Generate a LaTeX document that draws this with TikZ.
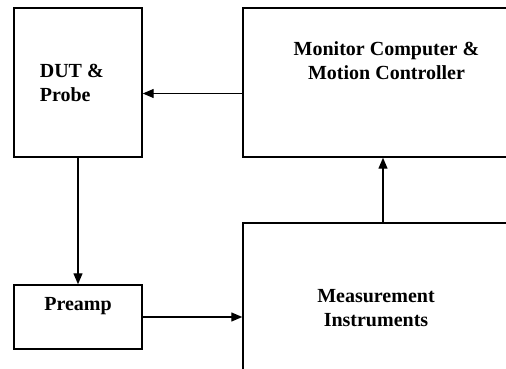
\documentclass[tikz,border=0pt]{standalone}
\usepackage{fontspec}
\setmainfont{Liberation Serif}
\usetikzlibrary{positioning,arrows.meta,calc}

\begin{document}
\begin{tikzpicture}[x=1pt,y=-1pt,>={Triangle[length=11pt,width=9pt]},
  font=\bfseries\fontsize{20}{24}\selectfont,
  block/.style={rectangle,draw=black,line width=1.4pt},
  link/.style={->,line width=1.3pt}]

\clip (0,0) rectangle (506,369);

% draw blocks
\node[block,minimum width=128,minimum height=149,
  label={[anchor=west,align=left,xshift=23pt]west:DUT \&\\Probe}] (dut) at (78,82.5) {};
\node[block,minimum width=287,minimum height=149,
  label={[anchor=north,align=center,yshift=-31pt]north:Monitor Computer \&\\Motion Controller}] (mon) at (386.5,82.5) {};
\node[block,minimum width=128,minimum height=64,
  label={[anchor=north,yshift=-10pt]north:Preamp}] (pre) at (78,317) {};
\node[block,minimum width=280,minimum height=170,
  label={[anchor=center,align=center,xshift=-7pt]center:Measurement\\Instruments}] (meas) at (383,308) {};

% connect blocks
\draw[link] ([yshift=-11pt]mon.west) -- ([yshift=-11pt]dut.east);
\draw[link] (dut.south) -- (dut.south |- pre.north);
\draw[link] (pre) -- (pre -| meas.west);
\draw[link] (meas) -- (meas |- mon.south);

\end{tikzpicture}
\end{document}
